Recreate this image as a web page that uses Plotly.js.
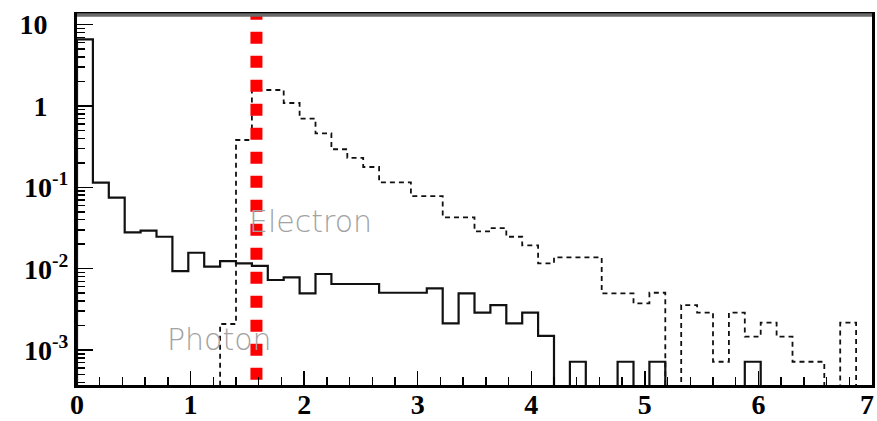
<!DOCTYPE html>
<html>
<head>
<meta charset="utf-8">
<script src="https://cdn.plot.ly/plotly-3.0.1.min.js"></script>
<style>html,body{margin:0;padding:0;background:#fff;}#chart{width:877px;height:421px;}</style>
</head>
<body>
<div id="chart"></div>
<script>
// ---- data ----
var nBins = 50;
var xMin = 0;
var xMax = 7;
var photon = [6.61, 0.114, 0.0746, 0.0280, 0.0293, 0.0247, 0.00936, 0.0157, 0.0106, 0.0124,
  0.0116, 0.0108, 0.00726, 0.00784, 0.00498, 0.00860, 0.00648, 0.00648, 0.00648, 0.00506,
  0.00506, 0.00506, 0.00574, 0.00213, 0.00498, 0.00288, 0.00357, 0.00213, 0.00288, 0.00149,
  0, 0.000718, 0, 0, 0.000718, 0, 0.000718, 0, 0, 0,
  0, 0, 0.000718, 0, 0, 0, 0, 0, 0, 0];
var electron = [0, 0, 0, 0, 0, 0, 0, 0, 0, 0.00209,
  0.382, 1.573, 1.573, 1.089, 0.698, 0.462, 0.294, 0.231, 0.178, 0.115,
  0.115, 0.0782, 0.0782, 0.0428, 0.0428, 0.0288, 0.0316, 0.0247, 0.0193, 0.01164,
  0.0138, 0.0138, 0.0138, 0.00498, 0.00498, 0.00375, 0.00506, 0, 0.00357, 0.00288,
  0.000718, 0.00288, 0.00146, 0.00217, 0.00146, 0.000718, 0.000718, 0, 0.00217, 0];
var cutX = 1.58;
var xTickVals = [0, 1, 2, 3, 4, 5, 6, 7];
var xTickText = ["0", "1", "2", "3", "4", "5", "6", "7"];
var majorTickVals = [0.001, 0.01, 0.1, 1, 10];
var majorTickText = ["10<sup>-3</sup>", "10<sup>-2</sup>", "10<sup>-1</sup>", "1\u00a0\u00a0\u00a0", "10\u00a0\u00a0\u00a0"];
var labelElectron = "Electron";
var labelPhoton = "Photon";

// ---- build ----
var yLogRange = [-3.430, 1.119];
var floorVal = 1e-5;
var binW = (xMax - xMin) / nBins;
function stepTrace(vals) {
  var xs = [xMin], ys = [floorVal];
  for (var i = 0; i < vals.length; i++) {
    xs.push(xMin + i * binW);
    ys.push(vals[i] > 0 ? vals[i] : floorVal);
  }
  xs.push(xMax); ys.push(vals[vals.length - 1] > 0 ? vals[vals.length - 1] : floorVal);
  xs.push(xMax); ys.push(floorVal);
  return {xs: xs, ys: ys};
}
var p = stepTrace(photon);
var e = stepTrace(electron);

var minorVals = [];
for (var d = -4; d <= 1; d++) {
  for (var m = 2; m <= 9; m++) minorVals.push(m * Math.pow(10, d));
}

// the label at the right edge is drawn as a right-anchored annotation so it stays inside the page
var lastIdx = xTickVals.length - 1;
var axisTickText = xTickText.map(function (t, i) { return i === lastIdx ? '' : t; });

var traces = [
  {x: p.xs, y: p.ys, type: 'scatter', mode: 'lines', line: {shape: 'hv', color: '#111', width: 2.2}, hoverinfo: 'skip'},
  {x: e.xs, y: e.ys, type: 'scatter', mode: 'lines', line: {shape: 'hv', color: '#111', width: 1.8, dash: '5px,4px'}, hoverinfo: 'skip'},
  {x: [cutX, cutX], y: [16.2, 1e-5], type: 'scatter', mode: 'lines', line: {color: '#ff0000', width: 12, dash: '12px,12px'}, hoverinfo: 'skip'}
];

var serif = '"Liberation Serif", "Times New Roman", serif';
var xLabelFont = {family: serif, size: 28, color: '#000', weight: 700};

var layout = {
  width: 877, height: 421,
  margin: {l: 77, r: 5, t: 15, b: 36, pad: 0},
  paper_bgcolor: '#fff', plot_bgcolor: '#fff',
  showlegend: false,
  xaxis: {
    range: [xMin, xMax], tickmode: 'array', tickvals: xTickVals, ticktext: axisTickText,
    ticks: 'inside', ticklen: 14, tickwidth: 1.5, tickcolor: '#000',
    minor: {tickmode: 'linear', tick0: 0, dtick: 0.2, ticks: 'inside', ticklen: 8, tickwidth: 1.5, tickcolor: '#000'},
    showline: true, linecolor: '#000', linewidth: 3, mirror: true,
    showgrid: false, zeroline: false,
    tickfont: xLabelFont,
    ticklabeloverflow: 'allow',
    ticklabelstandoff: -8
  },
  yaxis: {
    type: 'log', range: yLogRange,
    tickmode: 'array', tickvals: majorTickVals, ticktext: majorTickText,
    ticks: 'inside', ticklen: 16, tickwidth: 1.5, tickcolor: '#000',
    minor: {tickmode: 'array', tickvals: minorVals, ticks: 'inside', ticklen: 8, tickwidth: 1.5, tickcolor: '#000'},
    showline: true, linecolor: '#000', linewidth: 3, mirror: true,
    showgrid: false, zeroline: false,
    tickfont: {family: serif, size: 28, color: '#000', weight: 700},
    ticklabelstandoff: 0
  },
  shapes: [
    {type: 'line', xref: 'paper', yref: 'paper', x0: 0, x1: 1, y0: 1, y1: 1, layer: 'above',
     line: {color: '#6a6a6a', width: 3.5}}
  ],
  annotations: [
    {text: labelElectron, x: 1.50, y: -1.423, xref: 'x', yref: 'y', xanchor: 'left', yanchor: 'middle', showarrow: false,
     font: {family: 'DejaVu Sans, sans-serif', size: 30, color: '#a2a2a2', weight: 200}},
    {text: labelPhoton, x: 0.775, y: -2.873, xref: 'x', yref: 'y', xanchor: 'left', yanchor: 'middle', showarrow: false,
     font: {family: 'DejaVu Sans, sans-serif', size: 30, color: '#a2a2a2', weight: 200}},
    {text: xTickText[lastIdx], x: xTickVals[lastIdx], xref: 'x', yref: 'paper', y: -0.052, xanchor: 'right', yanchor: 'middle',
     xshift: 4, showarrow: false, font: xLabelFont}
  ]
};

Plotly.newPlot('chart', traces, layout, {staticPlot: true, displayModeBar: false});
</script>
</body>
</html>
